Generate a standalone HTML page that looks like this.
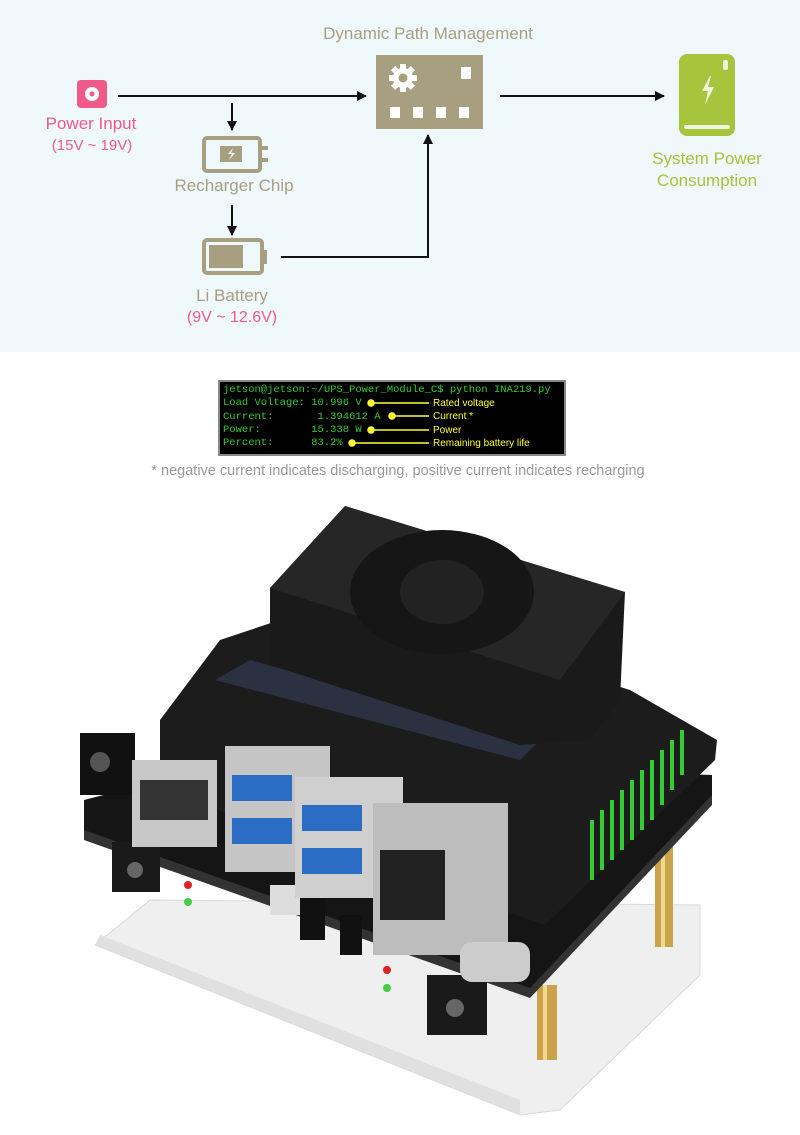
<!DOCTYPE html>
<html><head><meta charset="utf-8"><style>
html,body{margin:0;padding:0;width:800px;height:1135px;background:#fff;overflow:hidden;font-family:"Liberation Sans",sans-serif}
.t{position:absolute;white-space:nowrap;transform:translateX(-50%);font-size:17px}
.mono{font-family:"Liberation Mono",monospace}
</style></head><body>
<div style="position:absolute;left:0;top:0;width:800px;height:352px;background:#eff8fb"></div>
<svg style="position:absolute;left:0;top:0" width="800" height="1135">
<defs><marker id="a" markerWidth="10" markerHeight="10" refX="9" refY="5" orient="auto" markerUnits="userSpaceOnUse"><path d="M0,0 L10,5 L0,10z" fill="#111"/></marker></defs>
<!-- power input icon -->
<rect x="77" y="80" width="30" height="28" rx="4" fill="#ef5a8a"/>
<circle cx="92" cy="94" r="7" fill="#fff"/><circle cx="92" cy="94" r="2.5" fill="#ef5a8a"/>
<g stroke="#111" stroke-width="2" fill="none">
<line x1="118" y1="96" x2="366" y2="96" marker-end="url(#a)"/>
<line x1="232" y1="103" x2="232" y2="130" marker-end="url(#a)"/>
<line x1="232" y1="205" x2="232" y2="235" marker-end="url(#a)"/>
<polyline points="281,257 428,257 428,135" marker-end="url(#a)"/>
<line x1="500" y1="96" x2="664" y2="96" marker-end="url(#a)"/>
</g>
<!-- recharger chip -->
<rect x="204" y="138" width="56" height="33" rx="3" fill="none" stroke="#a89f80" stroke-width="4"/>
<rect x="260" y="146" width="8" height="4" fill="#a89f80"/><rect x="260" y="158" width="8" height="4" fill="#a89f80"/>
<rect x="220" y="146" width="22" height="16" fill="#a89f80"/>
<path d="M233,148 l-5,6 h4 l-3,6 l6,-7 h-4z" fill="#fff"/>
<!-- battery -->
<rect x="204" y="240" width="58" height="33" rx="3" fill="none" stroke="#a89f80" stroke-width="4"/>
<rect x="262" y="250" width="5" height="14" fill="#a89f80"/>
<rect x="209" y="245" width="34" height="23" fill="#a89f80"/>
<!-- DPM -->
<rect x="376" y="55" width="107" height="74" fill="#a89f80"/>
<rect x="461" y="67" width="10" height="12" fill="#fff"/>
<rect x="390" y="107" width="10" height="11" fill="#fff"/><rect x="413" y="107" width="10" height="11" fill="#fff"/><rect x="436" y="107" width="10" height="11" fill="#fff"/><rect x="459" y="107" width="10" height="11" fill="#fff"/>
<g fill="#fff"><circle cx="403" cy="78" r="10"/>
<rect x="400" y="64" width="6" height="28"/><rect x="389" y="75" width="28" height="6"/>
<rect x="400" y="64" width="6" height="28" transform="rotate(45 403 78)"/><rect x="400" y="64" width="6" height="28" transform="rotate(-45 403 78)"/></g>
<circle cx="403" cy="78" r="4.5" fill="#a89f80"/>
<!-- system power -->
<rect x="679" y="54" width="56" height="82" rx="8" fill="#a6c43c"/>
<rect x="684" y="59" width="46" height="64" rx="4" fill="#a6c43c" stroke="#b8d25a" stroke-width="0"/>
<rect x="684" y="125" width="46" height="4" rx="2" fill="#eef5dc"/>
<rect x="723" y="60" width="5" height="10" rx="2" fill="#eef5dc"/>
<path d="M710,76 l-8,15 h6 l-3,14 l9,-18 h-6 l3,-11z" fill="#eef5dc"/>
<!-- terminal -->
<rect x="219" y="381" width="346" height="74" fill="#000" stroke="#888" stroke-width="2"/>
<g stroke="#ffff33" stroke-width="1.5" fill="#ffff33">
<circle cx="371" cy="403" r="3"/><line x1="371" y1="403" x2="429" y2="403"/>
<circle cx="392" cy="416" r="3"/><line x1="392" y1="416" x2="429" y2="416"/>
<circle cx="371" cy="430" r="3"/><line x1="371" y1="430" x2="429" y2="430"/>
<circle cx="352" cy="443" r="3"/><line x1="352" y1="443" x2="429" y2="443"/>
</g>
<!-- photo: acrylic base -->
<polygon points="95,945 150,900 700,905 700,975 560,1110 520,1115" fill="#efefef" stroke="#d8d8d8"/>
<polygon points="95,945 520,1115 520,1100 100,935" fill="#e0e0e0"/>
<!-- standoffs -->
<rect x="655" y="835" width="18" height="112" fill="#c9a44a"/><rect x="661" y="835" width="4" height="112" fill="#f0d890"/>
<rect x="537" y="985" width="20" height="75" fill="#c9a44a"/><rect x="543" y="985" width="4" height="75" fill="#f0d890"/>
<!-- lower board -->
<polygon points="84,800 240,760 712,775 712,800 530,995 84,838" fill="#151515"/>
<polygon points="84,830 530,988 712,795 712,805 530,998 84,840" fill="#333"/>
<rect x="112" y="842" width="48" height="50" fill="#1a1a1a"/><circle cx="135" cy="870" r="8" fill="#666"/>
<rect x="427" y="975" width="60" height="60" fill="#1a1a1a"/><circle cx="455" cy="1008" r="9" fill="#666"/>
<rect x="300" y="890" width="25" height="50" fill="#111"/><rect x="340" y="915" width="22" height="40" fill="#111"/>
<rect x="270" y="885" width="30" height="30" fill="#ddd"/>
<circle cx="188" cy="885" r="4" fill="#d22"/><circle cx="188" cy="902" r="4" fill="#4c4"/>
<circle cx="387" cy="970" r="4" fill="#d22"/><circle cx="387" cy="988" r="4" fill="#4c4"/>
<!-- upper carrier board -->
<polygon points="160,720 220,640 340,600 630,690 717,740 715,760 545,925 160,790" fill="#1c1c1c"/>
<polygon points="215,680 520,760 540,740 250,660" fill="#2b3140"/>
<rect x="80" y="733" width="55" height="62" fill="#111"/><circle cx="100" cy="762" r="10" fill="#555"/>
<!-- pin header -->
<g fill="#3c3">
<rect x="590" y="820" width="4" height="60"/><rect x="600" y="810" width="4" height="60"/><rect x="610" y="800" width="4" height="60"/><rect x="620" y="790" width="4" height="60"/><rect x="630" y="780" width="4" height="60"/><rect x="640" y="770" width="4" height="60"/><rect x="650" y="760" width="4" height="60"/><rect x="660" y="750" width="4" height="55"/><rect x="670" y="740" width="4" height="50"/><rect x="680" y="730" width="4" height="45"/>
</g>
<!-- ports -->
<rect x="132" y="760" width="85" height="87" fill="#c8c8c8"/><rect x="140" y="780" width="68" height="40" fill="#333"/>
<rect x="225" y="746" width="105" height="126" fill="#c5c5c5"/>
<rect x="232" y="775" width="60" height="26" fill="#2b6cc4"/><rect x="232" y="818" width="60" height="26" fill="#2b6cc4"/>
<rect x="295" y="777" width="108" height="121" fill="#cfcfcf"/>
<rect x="302" y="805" width="60" height="26" fill="#2b6cc4"/><rect x="302" y="848" width="60" height="26" fill="#2b6cc4"/>
<rect x="373" y="803" width="135" height="152" fill="#bdbdbd"/>
<rect x="380" y="850" width="65" height="70" fill="#222"/>
<rect x="460" y="942" width="70" height="40" rx="12" fill="#ccc"/>
<!-- heatsink -->
<polygon points="270,588 345,506 625,592 620,700 590,740 520,745 270,665" fill="#1a1a1a"/>
<polygon points="270,588 345,506 625,592 560,680" fill="#262626"/>
<ellipse cx="442" cy="592" rx="92" ry="62" fill="#161616"/>
<ellipse cx="442" cy="592" rx="42" ry="32" fill="#222"/>
</svg>
<div class="t" style="left:428px;top:24px;color:#a89f80">Dynamic Path Management</div>
<div class="t" style="left:91px;top:114px;color:#ef5a8a">Power Input</div>
<div class="t" style="left:92px;top:137px;color:#ef5a8a;font-size:15px">(15V ~ 19V)</div>
<div class="t" style="left:234px;top:176px;color:#a89f80">Recharger Chip</div>
<div class="t" style="left:232px;top:286px;color:#a89f80">Li Battery</div>
<div class="t" style="left:232px;top:309px;color:#ef5a8a;font-size:16px">(9V ~ 12.6V)</div>
<div class="t" style="left:707px;top:149px;color:#a6c43c">System Power</div>
<div class="t" style="left:707px;top:171px;color:#a6c43c">Consumption</div>
<div class="mono" style="position:absolute;left:223px;top:384px;color:#3c3;font-size:10.5px;line-height:13.3px;white-space:pre">jetson@jetson:~/UPS_Power_Module_C$ python INA219.py
Load Voltage: 10.996 V
Current:       1.394612 A
Power:        15.338 W
Percent:      83.2%</div>
<div style="position:absolute;left:433px;top:397px;color:#ffff33;font-size:10px;line-height:13.3px;white-space:pre">Rated voltage
Current *
Power
Remaining battery life</div>
<div class="t" style="left:398px;top:463px;color:#999;font-size:14.5px">* negative current indicates discharging, positive current indicates recharging</div>
</body></html>
